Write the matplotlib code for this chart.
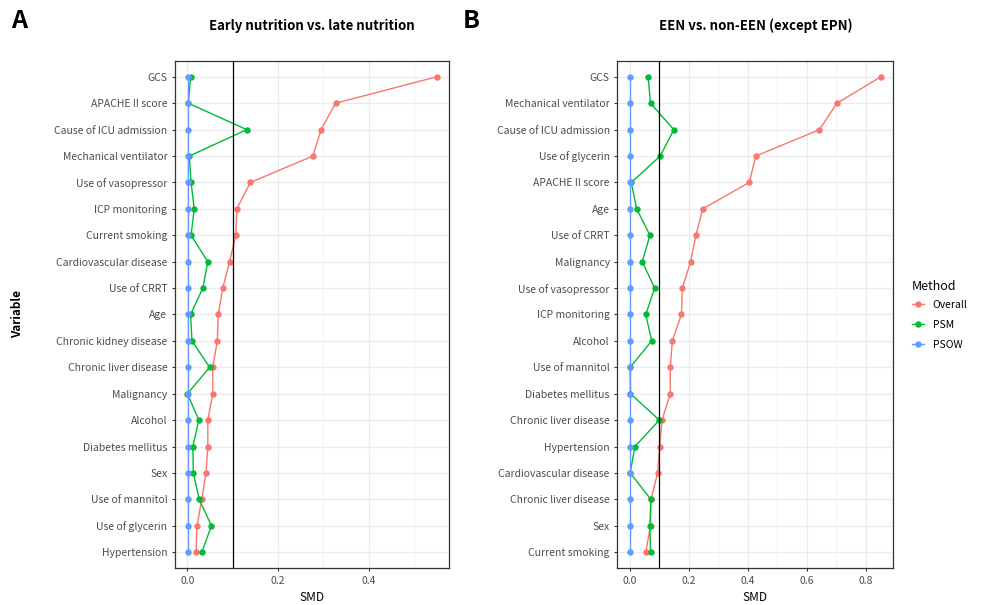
import numpy as np
import matplotlib.pyplot as plt
from matplotlib.lines import Line2D

plt.rcParams['font.family'] = ['Noto Sans CJK KR', 'DejaVu Sans']

# Panel A: early vs late nutrition
vars_a = ['GCS', 'APACHE II score', 'Cause of ICU admission', 'Mechanical ventilator',
          'Use of vasopressor', 'ICP monitoring', 'Current smoking', 'Cardiovascular disease',
          'Use of CRRT', 'Age', 'Chronic kidney disease', 'Chronic liver disease',
          'Malignancy', 'Alcohol', 'Diabetes mellitus', 'Sex', 'Use of mannitol',
          'Use of glycerin', 'Hypertension']
overall_a = [0.550, 0.327, 0.295, 0.277, 0.139, 0.109, 0.107, 0.093, 0.078, 0.068,
             0.066, 0.056, 0.056, 0.045, 0.045, 0.041, 0.032, 0.021, 0.019]
psm_a = [0.007, 0.002, 0.131, 0.004, 0.008, 0.015, 0.008, 0.045, 0.034, 0.007,
         0.010, 0.049, 0.000, 0.025, 0.012, 0.013, 0.026, 0.053, 0.032]
psow_a = [0.001] * 19

# Panel B: EEN vs non-EEN
vars_b = ['GCS', 'Mechanical ventilator', 'Cause of ICU admission', 'Use of glycerin',
          'APACHE II score', 'Age', 'Use of CRRT', 'Malignancy', 'Use of vasopressor',
          'ICP monitoring', 'Alcohol', 'Use of mannitol', 'Diabetes mellitus',
          'Chronic liver disease', 'Hypertension', 'Cardiovascular disease',
          'Chronic liver disease', 'Sex', 'Current smoking']
overall_b = [0.851, 0.702, 0.643, 0.427, 0.405, 0.247, 0.224, 0.206, 0.178, 0.175,
             0.144, 0.137, 0.137, 0.109, 0.101, 0.094, 0.072, 0.070, 0.054]
psm_b = [0.062, 0.070, 0.149, 0.103, 0.005, 0.023, 0.068, 0.042, 0.084, 0.054,
         0.074, 0.001, 0.002, 0.100, 0.017, 0.001, 0.071, 0.068, 0.070]
psow_b = [0.001] * 19

clr = {'Overall': '#F8766D', 'PSM': '#00BA38', 'PSOW': '#619CFF'}

fig = plt.figure(figsize=(9.83, 6.05), dpi=100)
axA = fig.add_axes([0.178, 0.0612, 0.2788, 0.8380])
axB = fig.add_axes([0.628, 0.0612, 0.2808, 0.8380])


def panel(ax, labels, ov, ps, pw, xmax, xticks, minor):
    n = len(labels)
    y = np.arange(n)[::-1]
    for vals, name in [(ov, 'Overall'), (ps, 'PSM'), (pw, 'PSOW')]:
        ax.plot(vals, y, '-o', color=clr[name], lw=1, ms=3.6, zorder=3)
    ax.axvline(0.1, color='black', lw=0.9, zorder=4)
    ax.set_yticks(y)
    ax.set_yticklabels(labels, fontsize=7.5, color='#4D4D4D')
    ax.set_ylim(-0.6, n - 0.4)
    ax.set_xticks(xticks)
    ax.set_xticklabels([f'{t:.1f}' for t in xticks], fontsize=7.5, color='#4D4D4D')
    ax.set_xticks(minor, minor=True)
    ax.set_xlim(-xmax * 0.05, xmax * 1.05)
    ax.grid(True, which='major', color='#EBEBEB', lw=0.9, zorder=0)
    ax.grid(True, which='minor', axis='x', color='#EBEBEB', lw=0.5, zorder=0)
    ax.tick_params(which='major', length=2.5, color='#333333', pad=3)
    ax.tick_params(which='minor', length=0)
    for s in ax.spines.values():
        s.set_color('#333333')
        s.set_linewidth(0.9)
    ax.set_xlabel('SMD', fontsize=8.5, labelpad=4)


panel(axA, vars_a, overall_a, psm_a, psow_a, 0.550, [0.0, 0.2, 0.4], [0.1, 0.3, 0.5])
panel(axB, vars_b, overall_b, psm_b, psow_b, 0.851, [0.0, 0.2, 0.4, 0.6, 0.8],
      [0.1, 0.3, 0.5, 0.7])

axA.set_title('Early nutrition vs. late nutrition', fontsize=9.5, fontweight='bold', pad=22)
axB.set_title('EEN vs. non-EEN (except EPN)', fontsize=9.5, fontweight='bold', pad=22)

fig.text(0.018, 0.481, 'Variable', rotation=90, fontsize=8.5, fontweight='bold',
         ha='center', va='center')
fig.text(0.011, 0.966, 'A', fontsize=18, fontweight='bold', va='center')
fig.text(0.471, 0.966, 'B', fontsize=18, fontweight='bold', va='center')

handles = [Line2D([], [], color=clr[k], marker='o', lw=1, ms=3.6) for k in clr]
leg = fig.legend(handles, list(clr.keys()), loc='upper left', bbox_to_anchor=(0.918, 0.553),
                 title='Method', frameon=False, fontsize=7.5, title_fontsize=9,
                 handlelength=1.2, labelspacing=0.95, alignment='left')
leg._legend_box.sep = 5

fig.savefig('out.png', dpi=100)
